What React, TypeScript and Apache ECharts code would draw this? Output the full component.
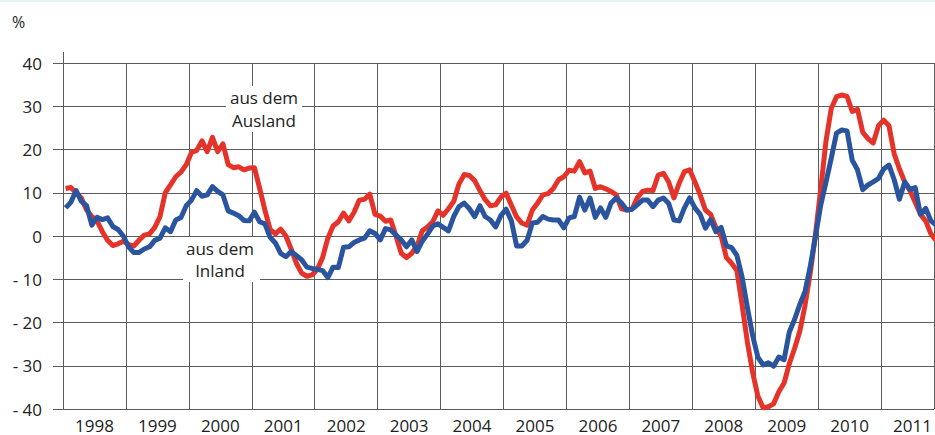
import React, { useEffect, useRef } from "react";
import * as echarts from "echarts";

// Monthly data, Jan 1998 .. Oct 2011 (percent change vs. previous year)
const startYear = 1998;
const yearLabels = ["1998", "1999", "2000", "2001", "2002", "2003", "2004", "2005", "2006", "2007", "2008", "2009", "2010", "2011"];
const yTicks = [-40, -30, -20, -10, 0, 10, 20, 30, 40];

const ausland = [
  11, 11.2, 10, 8.8, 6, 4.5, 3.5, 1, -1, -2.2, -1.8, -1.2,
  -2, -2.3, -1, 0.2, 0.5, 2, 4.5, 10, 11.8, 13.7, 14.8, 16.5,
  19.3, 19.8, 22, 19.5, 22.8, 19.5, 21.3, 16.5, 15.8, 16, 15.3, 15.7,
  15.8, 11, 6, 1.5, 0.5, 1.6, 0, -3, -6.3, -8.6, -9.3, -9,
  -7.7, -5, -0.5, 2.3, 3.3, 5.3, 3.5, 5.5, 8.3, 8.5, 9.7, 5,
  4.6, 3.4, 3.7, 0, -4, -5, -4, -2.3, 1.2, 2.1, 3.3, 5.8,
  4.8, 6.3, 8, 12, 14.2, 14, 12.8, 10.5, 8.4, 7, 7.2, 9,
  9.9, 7.1, 4.4, 3, 2.5, 6, 7.6, 9.5, 9.8, 11, 13, 13.7,
  15.2, 15, 17.2, 14.6, 15, 11, 11.4, 10.9, 10.3, 9.5, 6.3, 6,
  6.2, 8.8, 10.3, 10.6, 10.5, 14.1, 14.5, 12.5, 8.8, 12.2, 14.9, 15.3,
  12.5, 9.5, 6, 5, 2, 0, -5, -6.3, -8, -16, -24.5, -31.5,
  -37, -39.7, -39.5, -38.8, -36, -34, -29.5, -26, -22, -16, -8.5, 0.5,
  11, 22, 29.5, 32.2, 32.6, 32.3, 28.8, 29.3, 24, 22.5, 21.5, 25.5,
  26.8, 25.5, 19, 15.5, 12.5, 10.5, 7.8, 5, 3.5, 0.5, -1
];

const inland = [
  6.5, 7.8, 10.5, 8, 7, 2.5, 4.3, 3.8, 4.2, 2.2, 1.5, 0,
  -2.5, -3.8, -3.8, -3, -2.5, -1, -0.5, 1.9, 1, 3.7, 4.3, 7,
  8.3, 10.5, 9.2, 9.5, 11.4, 10.3, 9.5, 5.8, 5.3, 4.7, 3.6, 3.5,
  5.5, 3.3, 2.8, -0.3, -1.6, -4, -4.8, -3.6, -4.5, -5.5, -7.2, -7.5,
  -7.7, -8, -9.6, -7.2, -7.3, -2.6, -2.5, -1.5, -0.9, -0.5, 1.2, 0.6,
  -0.9, 1.7, 1.4, 0.2, -0.9, -2.5, -0.9, -3.6, -1.2, 0.4, 2.3, 2.8,
  2, 1.2, 4.5, 6.8, 7.6, 6.3, 4.5, 7, 4.5, 3.7, 2.1, 4.7,
  6.2, 3.5, -2.3, -2.3, -1, 3, 3.2, 4.5, 3.9, 3.7, 3.7, 1.9,
  4.2, 4.5, 9, 6, 8.8, 4.3, 6.5, 4.3, 7.6, 8.8, 7.6, 6,
  6.2, 7.2, 8.3, 8.3, 6.8, 8.3, 8.8, 7.5, 3.7, 3.5, 6.5, 8.8,
  6.5, 5, 1.8, 3.8, 1, 2, -2.3, -2.7, -4.5, -9.5, -16.5, -23,
  -28, -29.8, -29.3, -30.1, -28, -28.6, -22.2, -19.3, -15.8, -12.8, -7, 0,
  7.2, 12.5, 18, 23.8, 24.5, 24.3, 17.5, 15.3, 10.7, 11.8, 12.5, 13.3,
  15.5, 16.4, 13, 8.5, 12.5, 10.8, 11.2, 5, 6.4, 3.5, 2.5
];

const labelAusland = "aus dem\nAusland";
const labelInland = "aus dem\nInland";

const RED = "#e5332a";
const BLUE = "#2a559e";
const GRID = "#5c5c5c";
const TEXT = "#222222";
const FONT = "'Open Sans', 'Noto Sans', sans-serif";

const W = 935;
const H = 435;
const LEFT = 63;
const TOP = 63;
const BOTTOM = 26;
const PX_PER_YEAR = 63;
const xMax = startYear + (W - LEFT) / PX_PER_YEAR;

const toPairs = (arr: number[]) => arr.map((v, i) => [startYear + (i + 0.5) / 12, v]);

export default function App() {
  const ref = useRef<HTMLDivElement>(null);
  useEffect(() => {
    if (!ref.current) return;
    const chart = echarts.init(ref.current, undefined, { renderer: "svg" });
    chart.setOption({
      animation: false,
      backgroundColor: "#ffffff",
      textStyle: { fontFamily: FONT },
      grid: { left: LEFT, right: 0, top: TOP, bottom: BOTTOM, containLabel: false },
      xAxis: [
        {
          type: "value",
          min: startYear,
          max: xMax,
          interval: 1,
          axisLine: { show: false },
          axisTick: { show: false },
          axisLabel: { show: false },
          splitLine: { show: true, lineStyle: { color: GRID, width: 1 } },
        },
        {
          type: "value",
          min: startYear,
          max: xMax,
          interval: 0.5,
          position: "bottom",
          axisLine: { show: false },
          axisTick: { show: false },
          splitLine: { show: false },
          axisLabel: {
            show: true,
            margin: 8,
            color: TEXT,
            fontSize: 17,
            lineHeight: 16,
            fontFamily: FONT,
            showMinLabel: false,
            showMaxLabel: false,
            formatter: (v: number) => {
              const frac = v - Math.floor(v);
              if (Math.abs(frac - 0.5) > 0.01) return "";
              const idx = Math.floor(v) - startYear;
              return yearLabels[idx] ?? "";
            },
          },
        },
      ],
      yAxis: {
        type: "value",
        min: yTicks[0],
        max: yTicks[yTicks.length - 1],
        interval: 10,
        axisLine: { show: false },
        axisTick: { show: true, length: 10, inside: false, lineStyle: { color: GRID, width: 1 } },
        splitLine: { show: true, lineStyle: { color: GRID, width: 1 } },
        axisLabel: {
          margin: 21,
          color: TEXT,
          fontSize: 17,
          fontFamily: FONT,
          formatter: (v: number) => (v < 0 ? "- " + Math.abs(v) : String(v)),
        },
      },
      series: [
        {
          name: "aus dem Ausland",
          type: "line",
          xAxisIndex: 0,
          data: toPairs(ausland),
          showSymbol: false,
          symbol: "none",
          lineStyle: { color: RED, width: 5, join: "round" },
          z: 3,
        },
        {
          name: "aus dem Inland",
          type: "line",
          xAxisIndex: 0,
          data: toPairs(inland),
          showSymbol: false,
          symbol: "none",
          lineStyle: { color: BLUE, width: 5, join: "round" },
          z: 4,
        },
      ],
      graphic: [
        { type: "rect", shape: { x: 0, y: 0, width: W, height: 2 }, style: { fill: "#e3f4f9" }, z: 10 },
        { type: "line", shape: { x1: LEFT + 0.5, y1: 52, x2: LEFT + 0.5, y2: TOP }, style: { stroke: GRID, lineWidth: 1 }, z: 10 },
        {
          type: "text",
          x: 12,
          y: 14,
          style: { text: "%", fill: TEXT, font: `16px ${FONT}` },
          z: 10,
        },
        { type: "rect", shape: { x: 226, y: 86, width: 76, height: 46 }, style: { fill: "#ffffff" }, z: 10 },
        {
          type: "text",
          x: 264,
          y: 109,
          style: {
            text: labelAusland,
            fill: TEXT,
            font: `17px ${FONT}`,
            align: "center",
            verticalAlign: "middle",
            lineHeight: 23,
          },
          z: 11,
        },
        { type: "rect", shape: { x: 183, y: 237, width: 77, height: 45 }, style: { fill: "#ffffff" }, z: 10 },
        {
          type: "text",
          x: 220,
          y: 259,
          style: {
            text: labelInland,
            fill: TEXT,
            font: `17px ${FONT}`,
            align: "center",
            verticalAlign: "middle",
            lineHeight: 22,
          },
          z: 11,
        },
      ],
    });
    return () => chart.dispose();
  }, []);
  return (
    <div
      ref={ref}
      style={{ position: "fixed", left: 0, top: 0, width: W, height: H, background: "#fff" }}
    />
  );
}
